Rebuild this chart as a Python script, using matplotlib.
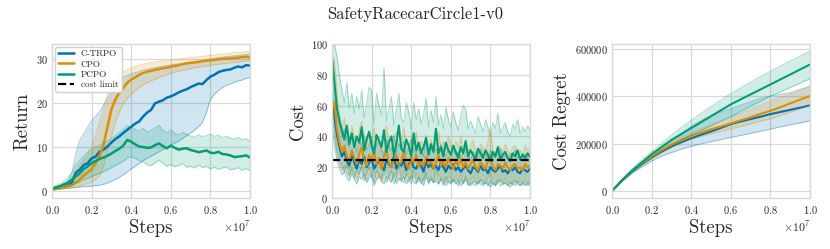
import numpy as np
import matplotlib
matplotlib.use("Agg")
import matplotlib.pyplot as plt
import seaborn as sns
from matplotlib.ticker import MultipleLocator

sns.set_style("whitegrid")
plt.rcParams['font.family'] = ['cmr10', 'DejaVu Serif']
plt.rcParams['mathtext.fontset'] = 'cm'
plt.rcParams['axes.formatter.use_mathtext'] = True
plt.rcParams['axes.unicode_minus'] = False

title = "SafetyRacecarCircle1-v0"
algos = ["C-TRPO", "CPO", "PCPO"]
colors = ["#0173b2", "#de8f05", "#029e73"]
cost_limit = 25

# ---------------- Return (51 points) ----------------
ret_ctrpo = [0.5, 0.7, 0.9, 1.0, 1.3, 1.8, 4.2, 4.8, 5.9, 6.3, 7.4, 7.8, 8.9, 9.4, 10.1, 11.0, 11.8, 12.4, 13.2, 13.9,
             14.6, 15.3, 15.8, 16.9, 17.8, 18.4, 19.9, 20.3, 20.6, 21.2, 21.5, 21.9, 22.4, 22.8, 23.1, 23.6, 24.0, 24.4,
             24.3, 25.2, 26.0, 26.4, 27.0, 27.3, 27.5, 27.6, 28.0, 28.3, 28.1, 28.6, 28.5]
ret_ctrpo_lo = [0.2, 0.3, 0.4, 0.5, 0.6, 0.7, 0.8, 0.9, 1.0, 1.0, 1.1, 1.2, 1.3, 1.5, 1.8, 2.2, 2.6, 3.1, 3.7, 4.3,
                5.0, 5.6, 6.2, 6.9, 7.4, 7.9, 8.4, 8.9, 9.4, 9.9, 10.4, 10.9, 11.3, 11.9, 12.6, 13.2, 13.8, 14.6,
                15.6, 17.8, 20.8, 22.0, 22.8, 23.5, 24.0, 24.3, 24.7, 25.0, 25.2, 25.6, 25.8]
ret_ctrpo_hi = [0.8, 1.0, 1.2, 1.5, 2.2, 4.0, 8.5, 11.5, 13.0, 14.5, 16.0, 17.0, 18.0, 19.5, 21.0, 22.5, 24.0, 25.0,
                25.8, 26.3, 26.6, 26.9, 27.1, 27.4, 27.6, 27.8, 28.0, 28.2, 28.3, 28.5, 28.6, 28.8, 28.9, 29.0, 29.2,
                29.3, 29.4, 29.6, 29.7, 29.9, 30.0, 30.1, 30.3, 30.4, 30.5, 30.6, 30.7, 30.8, 30.9, 31.0, 31.0]
ret_cpo = [0.4, 0.6, 0.7, 0.9, 1.1, 1.3, 1.9, 2.6, 3.5, 4.2, 5.0, 6.2, 8.0, 10.5, 14.5, 18.5, 20.8, 22.3, 23.4, 24.6,
           25.3, 25.8, 26.4, 26.8, 27.1, 27.3, 27.5, 27.7, 27.9, 28.0, 28.3, 28.4, 28.6, 28.8, 29.0, 29.1, 29.2, 29.3,
           29.5, 29.6, 29.7, 29.8, 29.9, 30.0, 30.1, 30.1, 30.2, 30.3, 30.4, 30.5, 30.4]
ret_cpo_lo = [0.2, 0.3, 0.4, 0.5, 0.6, 0.7, 0.9, 1.1, 1.4, 1.7, 2.0, 2.6, 3.5, 5.5, 9.0, 12.5, 15.5, 18.0, 19.8, 21.0,
              22.0, 22.8, 23.5, 24.1, 24.6, 25.0, 25.4, 25.8, 26.1, 26.4, 26.7, 27.0, 27.2, 27.4, 27.6, 27.8, 28.0,
              28.1, 28.3, 28.4, 28.6, 28.7, 28.8, 28.9, 29.0, 29.1, 29.2, 29.3, 29.4, 29.5, 29.6]
ret_cpo_hi = [0.7, 0.9, 1.0, 1.3, 2.0, 3.0, 4.5, 5.8, 7.0, 8.5, 10.0, 12.5, 15.5, 19.0, 22.0, 24.0, 25.3, 26.3, 27.0,
              27.6, 28.0, 28.3, 28.6, 28.8, 29.0, 29.2, 29.3, 29.5, 29.6, 29.7, 29.8, 29.9, 30.0, 30.1, 30.2, 30.3,
              30.4, 30.5, 30.6, 30.7, 30.8, 30.9, 31.0, 31.1, 31.2, 31.3, 31.4, 31.5, 31.5, 31.6, 31.7]
ret_pcpo = [0.5, 0.8, 1.1, 1.5, 1.9, 2.5, 3.3, 4.0, 5.0, 5.6, 6.3, 6.8, 7.3, 7.6, 8.0, 8.5, 9.1, 9.6, 10.3, 11.6,
            11.2, 10.6, 10.1, 10.0, 9.8, 9.9, 10.4, 10.8, 10.2, 9.7, 10.3, 9.8, 9.4, 9.6, 9.7, 9.3, 9.1, 8.8, 9.0,
            9.2, 8.7, 8.6, 8.9, 8.4, 8.3, 8.1, 7.7, 7.8, 7.9, 8.1, 7.6]
ret_pcpo_lo = [0.2, 0.4, 0.6, 0.8, 1.0, 1.3, 1.7, 2.1, 2.5, 2.9, 3.3, 3.6, 4.0, 4.4, 4.8, 5.3, 5.8, 6.2, 6.8, 7.5,
               7.8, 7.4, 6.9, 6.6, 6.0, 5.7, 6.4, 7.0, 6.3, 5.6, 6.0, 5.5, 5.8, 6.2, 5.4, 5.6, 5.2, 5.9, 5.3, 5.6,
               5.0, 5.4, 4.9, 5.2, 5.5, 4.8, 5.0, 5.3, 4.7, 5.1, 4.6]
ret_pcpo_hi = [0.8, 1.2, 1.6, 2.2, 3.0, 4.2, 5.8, 7.0, 8.0, 8.8, 9.5, 10.0, 10.4, 10.8, 11.3, 11.9, 12.6, 13.3, 14.0,
               14.8, 14.6, 14.0, 13.6, 14.2, 13.4, 13.8, 14.4, 14.9, 13.8, 13.2, 13.9, 13.1, 12.7, 13.3, 12.9, 12.5,
               12.2, 12.8, 12.3, 12.6, 12.9, 12.4, 12.7, 12.1, 12.5, 12.0, 11.8, 12.2, 11.6, 11.9, 11.3]
ret_steps = np.linspace(0, 1e7, len(ret_ctrpo))

# ---------------- Cost (81 points) ----------------
cost_ctrpo = [65, 52, 41, 33, 27, 30, 24, 21, 28, 23,
              19, 25, 22, 27, 20, 23, 26, 19, 22, 24,
              21, 18, 25, 22, 20, 27, 19, 23, 21, 24,
              18, 22, 25, 20, 19, 23, 21, 17, 24, 20,
              22, 19, 21, 18, 23, 20, 17, 21, 19, 22,
              18, 20, 17, 19, 21, 18, 16, 20, 19, 17,
              21, 18, 19, 16, 20, 18, 17, 19, 21, 17,
              18, 16, 19, 18, 20, 17, 16, 19, 18, 17,
              19]
cost_ctrpo_lo = [45, 33, 25, 19, 15, 17, 13, 11, 16, 12,
                 9, 14, 12, 16, 10, 13, 15, 8, 12, 14,
                 11, 9, 14, 12, 10, 16, 9, 13, 11, 14,
                 9, 12, 14, 10, 9, 13, 11, 8, 14, 10,
                 12, 10, 11, 9, 13, 10, 8, 11, 10, 12,
                 9, 11, 8, 10, 12, 9, 8, 11, 10, 9,
                 12, 9, 10, 8, 11, 9, 8, 10, 12, 9,
                 10, 8, 10, 9, 11, 9, 8, 10, 9, 8,
                 10]
cost_ctrpo_hi = [85, 74, 60, 48, 40, 45, 37, 33, 42, 35,
                 30, 38, 34, 41, 31, 35, 40, 29, 34, 37,
                 32, 28, 38, 34, 31, 41, 29, 35, 32, 37,
                 28, 34, 38, 31, 29, 35, 32, 27, 37, 31,
                 33, 29, 32, 28, 35, 31, 27, 32, 29, 33,
                 28, 30, 27, 29, 32, 28, 25, 30, 29, 27,
                 32, 28, 29, 25, 31, 28, 26, 29, 32, 26,
                 28, 25, 29, 28, 31, 26, 25, 29, 28, 26,
                 29]
cost_cpo = [58, 62, 45, 36, 30, 34, 27, 24, 31, 26,
            22, 29, 33, 24, 21, 28, 25, 30, 22, 26,
            19, 27, 31, 23, 20, 25, 28, 21, 24, 30,
            22, 19, 26, 23, 28, 20, 24, 21, 27, 22,
            25, 19, 23, 28, 21, 24, 20, 26, 22, 19,
            24, 21, 26, 20, 23, 19, 22, 25, 20, 18,
            23, 21, 19, 24, 28, 20, 18, 22, 21, 19,
            23, 20, 18, 21, 22, 19, 20, 18, 22, 20,
            21]
cost_cpo_lo = [38, 40, 28, 22, 18, 21, 16, 14, 19, 15,
               12, 17, 20, 13, 11, 16, 14, 18, 12, 15,
               10, 16, 19, 13, 11, 14, 17, 11, 13, 18,
               12, 10, 15, 13, 16, 10, 13, 11, 16, 12,
               14, 10, 12, 16, 11, 13, 10, 15, 12, 10,
               13, 11, 15, 10, 12, 10, 12, 14, 10, 9,
               12, 11, 10, 13, 16, 10, 9, 12, 11, 10,
               13, 10, 9, 11, 12, 10, 11, 9, 12, 10,
               11]
cost_cpo_hi = [85, 90, 68, 55, 46, 52, 42, 37, 47, 40,
               34, 44, 50, 37, 33, 43, 38, 46, 34, 40,
               30, 41, 47, 35, 31, 38, 43, 33, 37, 46,
               34, 30, 40, 35, 43, 31, 37, 33, 41, 34,
               38, 30, 35, 43, 33, 37, 31, 40, 34, 30,
               37, 33, 40, 31, 35, 30, 34, 38, 31, 28,
               35, 33, 30, 37, 46, 31, 28, 34, 33, 30,
               35, 31, 28, 33, 34, 30, 31, 28, 34, 31,
               32]
cost_pcpo = [92, 75, 58, 50, 44, 38, 47, 35, 42, 33,
             40, 36, 46, 31, 38, 43, 34, 29, 41, 37,
             33, 44, 30, 36, 40, 28, 35, 47, 32, 30,
             38, 34, 27, 42, 31, 36, 29, 33, 39, 28,
             35, 30, 45, 29, 33, 27, 36, 31, 28, 34,
             30, 26, 33, 29, 37, 27, 31, 28, 25, 32,
             29, 26, 31, 28, 24, 30, 27, 33, 25, 28,
             30, 26, 24, 29, 27, 31, 25, 28, 26, 29,
             27]
cost_pcpo_lo = [55, 42, 30, 25, 21, 17, 22, 15, 19, 13,
                18, 15, 21, 11, 16, 20, 13, 10, 18, 15,
                12, 20, 10, 14, 18, 9, 13, 22, 11, 10,
                16, 13, 9, 19, 10, 14, 9, 12, 17, 9,
                13, 10, 20, 9, 12, 8, 14, 10, 9, 12,
                10, 8, 12, 9, 14, 8, 10, 9, 8, 11,
                9, 8, 10, 9, 7, 10, 8, 12, 8, 9,
                10, 8, 7, 9, 8, 11, 8, 9, 8, 10,
                8]
cost_pcpo_hi = [100, 100, 92, 80, 70, 62, 75, 58, 68, 55,
                66, 58, 70, 52, 62, 72, 70, 48, 68, 60,
                54, 85, 50, 58, 66, 47, 57, 68, 52, 49,
                62, 56, 45, 62, 51, 58, 48, 54, 65, 46,
                57, 49, 66, 47, 54, 45, 59, 51, 46, 56,
                49, 44, 54, 60, 58, 45, 50, 46, 42, 53,
                48, 43, 51, 46, 40, 49, 45, 55, 42, 46,
                49, 43, 40, 48, 45, 51, 42, 46, 43, 47,
                44]
cost_steps = np.linspace(0, 1e7, len(cost_ctrpo))

# ---------------- Cost regret (21 points) ----------------
reg_ctrpo = [0, 43000, 80000, 112000, 140000, 165000, 187000, 205000, 222000, 237000, 251000, 266000, 282000, 293000,
             303000, 313000, 324000, 333000, 342000, 351000, 361000]
reg_ctrpo_lo = [0, 40000, 74000, 101000, 126000, 147000, 162000, 176000, 188000, 199000, 208000, 217000, 226000,
                234000, 243000, 252000, 261000, 270000, 279000, 287000, 296000]
reg_ctrpo_hi = [0, 46000, 86000, 120000, 150000, 180000, 210000, 242000, 272000, 297000, 318000, 333000, 347000,
                362000, 376000, 390000, 400000, 408000, 414000, 428000, 442000]
reg_cpo = [0, 44000, 83000, 116000, 145000, 172000, 195000, 215000, 233000, 247000, 260000, 272000, 285000, 298000,
           311000, 325000, 338000, 353000, 369000, 385000, 400000]
reg_cpo_lo = [0, 42000, 79000, 110000, 137000, 162000, 184000, 203000, 218000, 230000, 240000, 251000, 262000, 272000,
              283000, 294000, 305000, 318000, 332000, 347000, 361000]
reg_cpo_hi = [0, 46000, 87000, 122000, 153000, 182000, 207000, 228000, 245000, 262000, 278000, 294000, 310000,
              327000, 344000, 362000, 380000, 395000, 410000, 425000, 440000]
reg_pcpo = [0, 45000, 85000, 120000, 155000, 185000, 215000, 240000, 265000, 290000, 315000, 340000, 365000, 386000,
            407000, 428000, 449000, 470000, 491000, 512000, 533000]
reg_pcpo_lo = [0, 42000, 80000, 112000, 145000, 170000, 193000, 215000, 236000, 256000, 275000, 295000, 314000,
               335000, 357000, 378000, 400000, 418000, 436000, 455000, 473000]
reg_pcpo_hi = [0, 48000, 92000, 130000, 165000, 200000, 235000, 267000, 298000, 327000, 355000, 383000, 411000,
               435000, 459000, 482000, 505000, 526000, 547000, 568000, 589000]
reg_steps = np.linspace(0, 1e7, len(reg_ctrpo))

panels = [
    ("Return", ret_steps, [(ret_ctrpo, ret_ctrpo_lo, ret_ctrpo_hi), (ret_cpo, ret_cpo_lo, ret_cpo_hi),
                           (ret_pcpo, ret_pcpo_lo, ret_pcpo_hi)], (-1.6, 33.4), 10, 1.8),
    ("Cost", cost_steps, [(cost_ctrpo, cost_ctrpo_lo, cost_ctrpo_hi), (cost_cpo, cost_cpo_lo, cost_cpo_hi),
                          (cost_pcpo, cost_pcpo_lo, cost_pcpo_hi)], (0, 100), 20, 1.5),
    ("Cost Regret", reg_steps, [(reg_ctrpo, reg_ctrpo_lo, reg_ctrpo_hi), (reg_cpo, reg_cpo_lo, reg_cpo_hi),
                                (reg_pcpo, reg_pcpo_lo, reg_pcpo_hi)], (-29500, 619500), 200000, 1.5),
]

fig = plt.figure(figsize=(8.30, 2.49), dpi=100)
lefts = [52 / 830, 332 / 830, 612 / 830]
w = 198 / 830
b = 51 / 249
h = 154 / 249

for i, (ylabel, xs, series, ylim, ystep, lw) in enumerate(panels):
    ax = fig.add_axes([lefts[i], b, w, h])
    for (m, lo, hi), c, name in zip(series, colors, algos):
        ax.fill_between(xs, lo, hi, color=c, alpha=0.18, lw=0)
        ax.plot(xs, lo, color=c, alpha=0.35, lw=0.7)
        ax.plot(xs, hi, color=c, alpha=0.35, lw=0.7)
        ax.plot(xs, m, color=c, lw=lw, label=name)
    if i == 1:
        ax.axhline(cost_limit, color="black", ls="--", lw=1.6)
    ax.set_xlim(0, 1e7)
    ax.set_ylim(*ylim)
    ax.xaxis.set_major_locator(MultipleLocator(2e6))
    ax.yaxis.set_major_locator(MultipleLocator(ystep))
    ax.set_xlabel("Steps", fontsize=13.5, labelpad=2)
    ax.set_ylabel(ylabel, fontsize=13.5, labelpad=3)
    ax.tick_params(axis="y", labelsize=7.5, length=0, pad=3)
    ax.tick_params(axis="x", labelsize=7.5, length=0, pad=4.5)
    ax.xaxis.get_offset_text().set_fontsize(8.5)
    ax.grid(True, color="#d9d9d9", lw=0.9)
    for s in ax.spines.values():
        s.set_color("#d9d9d9")
        s.set_linewidth(1.0)
    if i == 0:
        ax.plot([], [], color="black", ls="--", lw=1.6, label="cost limit")
        leg = ax.legend(loc="upper left", fontsize=6.6, frameon=True, handlelength=1.8,
                        borderpad=0.35, labelspacing=0.2, handletextpad=0.7,
                        borderaxespad=0.3, framealpha=0.9)
        leg.get_frame().set_edgecolor("#cccccc")

fig.text(0.5, 1 - 14 / 249, title, ha="center", va="center", fontsize=12)
fig.savefig("out.png", dpi=100)
